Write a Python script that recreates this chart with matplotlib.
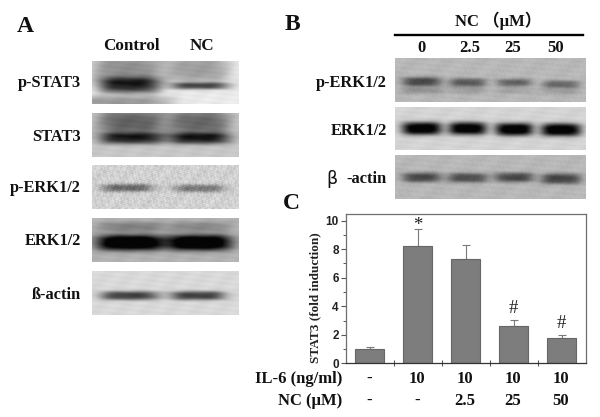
import numpy as np
import matplotlib
matplotlib.use("Agg")
import matplotlib.pyplot as plt

W, H = 600, 417
SERIF = ['Liberation Serif', 'Noto Sans CJK SC', 'DejaVu Sans']

# Bar chart data (panel C)
groups = [1, 2, 3, 4, 5]
stat3_fold = [1.0, 8.2, 7.3, 2.6, 1.75]
stat3_err = [0.12, 1.2, 1.0, 0.45, 0.22]
marks = ['', '*', '', '#', '#']
il6_labels = ['-', '10', '10', '10', '10']
nc_labels = ['-', '-', '2.5', '25', '50']
y_ticks = [0, 2, 4, 6, 8, 10]

# Blot panels: label, base grey, texture, blobs (xc, xw, yc, yw, darkening)
blots_a = [
    ('p-STAT3', 0.92, 0.0, [(0.24, 0.25, 0.18, 0.38, 0.36), (0.72, 0.22, 0.18, 0.38, 0.30),
                            (0.2, 0.34, 0.97, 0.16, 0.32),
                            (0.255, 0.21, 0.57, 0.19, 0.68), (0.735, 0.20, 0.58, 0.08, 0.55)]),
    ('STAT3', 0.78, 0.0, [(0.27, 0.23, 0.22, 0.32, 0.40), (0.73, 0.21, 0.22, 0.32, 0.38),
                          (0.27, 0.22, 0.58, 0.13, 0.58), (0.73, 0.21, 0.58, 0.13, 0.60)]),
    ('p-ERK1/2', 0.82, 0.09, [(0.24, 0.18, 0.52, 0.09, 0.42), (0.73, 0.18, 0.53, 0.09, 0.35)]),
    ('ERK1/2', 0.70, 0.0, [(0.27, 0.23, 0.20, 0.12, 0.20), (0.73, 0.21, 0.20, 0.12, 0.17),
                           (0.26, 0.23, 0.56, 0.18, 0.90), (0.73, 0.22, 0.56, 0.18, 0.90)]),
    ('ß-actin', 0.85, 0.0, [(0.255, 0.20, 0.57, 0.10, 0.60), (0.72, 0.19, 0.57, 0.10, 0.60)]),
]
label_y_a = [83, 137, 188, 241, 295]
bbox_a = [(92, 61, 239, 104), (92, 113, 239, 157), (92, 165, 239, 209),
          (92, 218, 239, 262), (92, 271, 239, 315)]

blots_b = [
    ('p-ERK1/2', 0.72, 0.02, [(0.14, 0.105, 0.54, 0.11, 0.44), (0.38, 0.095, 0.56, 0.10, 0.38),
                              (0.625, 0.095, 0.56, 0.09, 0.33), (0.87, 0.095, 0.60, 0.09, 0.32),
                              (0.14, 0.11, 0.74, 0.08, 0.15), (0.38, 0.10, 0.74, 0.08, 0.10),
                              (0.625, 0.10, 0.74, 0.08, 0.08), (0.87, 0.10, 0.76, 0.08, 0.10)]),
    ('ERK1/2', 0.83, 0.01, [(0.14, 0.105, 0.50, 0.15, 0.92), (0.38, 0.10, 0.50, 0.15, 0.90),
                            (0.625, 0.10, 0.52, 0.15, 0.92), (0.87, 0.105, 0.53, 0.15, 0.92)]),
    ('β-actin', 0.72, 0.02, [(0.14, 0.105, 0.52, 0.11, 0.44), (0.38, 0.105, 0.53, 0.11, 0.42),
                             (0.625, 0.105, 0.52, 0.11, 0.44), (0.87, 0.105, 0.55, 0.12, 0.46)]),
]
label_y_b = [82.7, 130.7, 179]
bbox_b = [(395, 58, 586, 102), (395, 107, 586, 150), (395, 155, 586, 199)]

fig = plt.figure(figsize=(W / 100, H / 100), dpi=100, facecolor='white')


def ftext(x, y, s, size=9.5, ha='center', family=SERIF, weight='bold', **kw):
    return fig.text(x / W, 1 - y / H, s, fontsize=size, ha=ha, va='center',
                    family=family, fontweight=weight, color='#111111', **kw)


def blot(box, base, tex, blobs):
    x0, y0, x1, y1 = box
    ax = fig.add_axes([x0 / W, 1 - y1 / H, (x1 - x0) / W, (y1 - y0) / H])
    h, w = (y1 - y0) * 2, (x1 - x0) * 2
    yy, xx = np.mgrid[0:1:h * 1j, 0:1:w * 1j]
    img = np.full_like(xx, base)
    # soft mottling of the film
    img += 0.012 * np.sin(xx * 37 + yy * 11) + 0.01 * np.sin(yy * 53 - xx * 19)
    if tex:
        img += tex * (np.sin(xx * 211 + 3 * np.sin(yy * 41)) * np.sin(yy * 97 + 2 * np.sin(xx * 73))
                      + 0.7 * np.sin(xx * 127 - yy * 151))
    for xc, xw, yc, yw, s in blobs:
        img -= s * np.exp(-np.abs((xx - xc) / xw) ** 4 - np.abs((yy - yc) / yw) ** 3)
    ax.imshow(np.clip(img, 0.02, 1), cmap='gray', vmin=0, vmax=1, aspect='auto',
              interpolation='bilinear')
    ax.axis('off')


for (name, base, tex, blobs), box, ly in zip(blots_a, bbox_a, label_y_a):
    blot(box, base, tex, blobs)
    ftext(81, ly, name, ha='right', size=11.8)
for (name, base, tex, blobs), box, ly in zip(blots_b, bbox_b, label_y_b):
    blot(box, base, tex, blobs)
    if name.startswith('β'):
        ftext(386.7, ly, '-actin', ha='right', size=11.8)
        ftext(331.5, ly, 'β', ha='center', size=12.5, family=['DejaVu Sans'], weight='normal')
    else:
        ftext(386.7, ly, name, ha='right', size=11.8)

ftext(17, 26, 'A', size=17, ha='left')
ftext(285, 25, 'B', size=17, ha='left')
ftext(283, 203, 'C', size=17, ha='left')
ftext(131.7, 45.5, 'Control', size=12.3)
ftext(201.7, 45.5, 'NC', size=12.3)
ftext(498, 21, 'NC （µM）', size=12)
for x, s in zip([421.7, 470, 513, 556], ['0', '2.5', '25', '50']):
    ftext(x, 48.5, s, size=12)
fig.add_artist(plt.Line2D([395 / W, 583 / W], [1 - 34.7 / H] * 2, color='black', lw=1.7))

# Panel C
ax = fig.add_axes([345.7 / W, 1 - 363.3 / H, 240 / W, 149.3 / H])
ax.bar(groups, stat3_fold, width=0.6, color='#7d7d7d', edgecolor='#666666', linewidth=0.8, zorder=2)
ax.errorbar(groups, stat3_fold, yerr=[[0] * 5, stat3_err], fmt='none', ecolor='#7a7a7a',
            elinewidth=0.8, capsize=3.2, capthick=0.8, zorder=1)
for g, v, e, m in zip(groups, stat3_fold, stat3_err, marks):
    if m:
        ax.annotate(m, (g, v + e), xytext=(0, 8.5 if m == '#' else 3), textcoords='offset points',
                    ha='center', va='center', fontsize=13.5, color='#222222',
                    family=SERIF, linespacing=1)
ax.set_xlim(0.5, 5.5)
ax.set_ylim(0, 10.47)
ax.set_yticks(y_ticks)
ax.set_yticks(np.arange(1, 11, 2), minor=True)
ax.set_xticks([1.5, 2.5, 3.5, 4.5])
ax.set_xticklabels([])
ax.tick_params(axis='x', direction='inout', length=4, width=0.8, color='#555555')
ax.tick_params(axis='y', which='major', direction='out', length=3.5, width=0.8, color='#555555', pad=1.5)
ax.tick_params(axis='y', which='minor', direction='out', length=2, width=0.7, color='#555555')
for lab in ax.get_yticklabels():
    lab.set_family(['Liberation Sans'])
    lab.set_fontweight('bold')
    lab.set_fontsize(8.5)
    lab.set_color('#222222')
for s in ax.spines.values():
    s.set_color('#6e6e6e')
    s.set_linewidth(0.9)
ax.spines['bottom'].set_color('#333333')
ax.set_ylabel('STAT3 (fold induction)', fontsize=9.5, family=SERIF, fontweight='bold',
              color='#222222', labelpad=3, y=0.44)

ftext(342.7, 379, 'IL-6 (ng/ml)', ha='right', size=12)
ftext(342.7, 400.7, 'NC (µM)', ha='right', size=12)
for g, a, b in zip(groups, il6_labels, nc_labels):
    px = 345.7 + (g - 0.5) * 48
    ftext(px - 1, 379, a, size=12)
    ftext(px - 1, 400.7, b, size=12)

fig.savefig('out.png', dpi=100)
